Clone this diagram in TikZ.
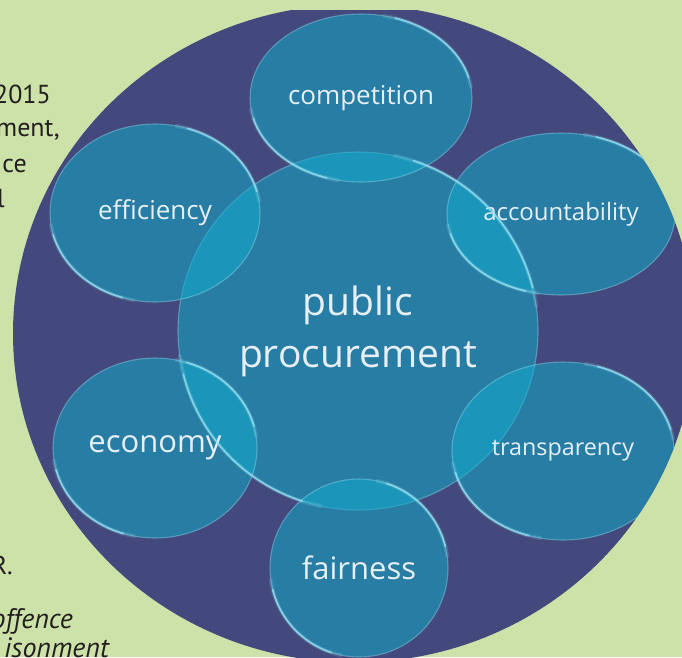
\documentclass[tikz,border=0pt]{standalone}
\usepackage{fontspec}
\setmainfont{Open Sans}
\newfontfamily\sidefont{PT Sans}
\usetikzlibrary{shapes.geometric}
\definecolor{bg}{RGB}{204,226,168}
\definecolor{navy}{RGB}{67,73,124}
\definecolor{bub}{RGB}{17,172,203}
\definecolor{rim}{RGB}{150,225,242}
\definecolor{lbl}{RGB}{230,239,243}
\definecolor{ink}{RGB}{35,31,32}
\newcommand\glint[3]{%
  \draw[hlsoft] ([shift={(-78:#2 and #3)}]#1.center) arc[start angle=-78, end angle=-8, x radius=#2, y radius=#3];
  \draw[hl] ([shift={(-72:#2 and #3)}]#1.center) arc[start angle=-72, end angle=-14, x radius=#2, y radius=#3];
  \draw[hlsoft] ([shift={(102:#2 and #3)}]#1.center) arc[start angle=102, end angle=172, x radius=#2, y radius=#3];
  \draw[hl] ([shift={(108:#2 and #3)}]#1.center) arc[start angle=108, end angle=166, x radius=#2, y radius=#3];}
\begin{document}
\begin{tikzpicture}[x=1pt,y=-1pt,
  bubble/.style={ellipse, inner sep=0pt, fill=bub, fill opacity=0.53, text opacity=1,
     draw=rim, draw opacity=0.4, line width=1.1pt, text=lbl},
  side/.style={text=ink, font=\sidefont\fontsize{26}{30}\selectfont, inner sep=0pt, anchor=base east},
  sideit/.style={side, font=\sidefont\itshape\fontsize{28}{32}\selectfont},
  hl/.style={draw=rim, line width=1.8pt, draw opacity=0.75, line cap=round},
  hlsoft/.style={draw=rim, line width=4pt, draw opacity=0.18, line cap=round}]
\fill[bg] (0,0) rectangle (682,657);
\useasboundingbox (0,0) rectangle (682,657);
\clip (0,0) rectangle (682,657);
% side text (cut off at the left edge)
\node[side] (t1) at (51,103) {2015};
\node[side] (t2) at (60,136) {ment,};
\node[side] (t3) at (27,172) {ce};
\node[side] (t4) at (5,207) {l};
\node[side] (t5) at (13,574) {R.};
\node[sideit] (t6) at (73,628) {offence};
\node[sideit] (t7) at (109,657) {isonment};
% navy disc
\begin{scope}
  \clip (0,10) rectangle (682,657);
  \fill[navy] (354,333.5) ellipse [x radius=341, y radius=329];
\end{scope}
\begin{scope}
  \clip (0,10) rectangle (682,657);
  \clip (354,333.5) ellipse [x radius=341, y radius=329];
% bubbles
\node[bubble, minimum width=360pt, minimum height=358pt, align=center,
      font=\fontsize{39}{52}\selectfont] (pp) at (358,331) {public\\procurement};
\node[bubble, minimum width=222pt, minimum height=168pt, font=\fontsize{26}{30}\selectfont] (comp) at (361,98) {competition};
\node[bubble, minimum width=210pt, minimum height=178pt, font=\fontsize{26}{30}\selectfont] (eff) at (155,213) {efficiency};
\node[bubble, minimum width=228pt, minimum height=162pt, font=\fontsize{24}{28}\selectfont] (acc) at (561,214) {accountability};
\node[bubble, minimum width=204pt, minimum height=180pt, font=\fontsize{31}{34}\selectfont] (eco) at (155,448) {economy};
\node[bubble, minimum width=222pt, minimum height=178pt, font=\fontsize{23.3}{28}\selectfont] (tra) at (563,451) {transparency};
\node[bubble, minimum width=178pt, minimum height=178pt, font=\fontsize{31}{34}\selectfont] (fai) at (359,568) {fairness};
% glass highlights
\glint{pp}{180}{179}
\glint{comp}{111}{84}
\glint{eff}{105}{89}
\glint{acc}{114}{81}
\glint{eco}{102}{90}
\glint{tra}{111}{89}
\glint{fai}{89}{89}
\end{scope}
\end{tikzpicture}
\end{document}
